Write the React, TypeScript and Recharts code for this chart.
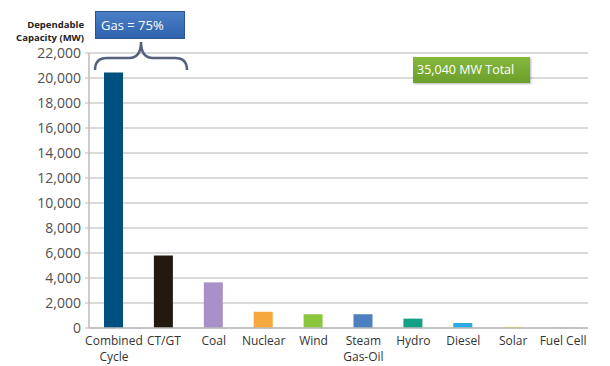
import React from "react";
import { BarChart, Bar, XAxis, YAxis, CartesianGrid, Cell } from "recharts";

const categories = ["Combined Cycle", "CT/GT", "Coal", "Nuclear", "Wind", "Steam Gas-Oil", "Hydro", "Diesel", "Solar", "Fuel Cell"];
const tickLines: string[][] = [["Combined", "Cycle"], ["CT/GT"], ["Coal"], ["Nuclear"], ["Wind"], ["Steam", "Gas-Oil"], ["Hydro"], ["Diesel"], ["Solar"], ["Fuel Cell"]];
const capacityMW = [20450, 5800, 3650, 1300, 1100, 1100, 750, 400, 100, 30];
const barColors = ["#00507f", "#231a0f", "#a890c8", "#f5a83c", "#8cc63f", "#4d80c0", "#14a084", "#2aaae0", "#f0e65a", "#b0b0b0"];
const yTicks = [0, 2000, 4000, 6000, 8000, 10000, 12000, 14000, 16000, 18000, 20000, 22000];

const data = categories.map((c, i) => ({ name: c, value: capacityMW[i], idx: i }));

const FONT = "'Open Sans', 'DejaVu Sans', sans-serif";

const XTick = (props: any) => {
  const { x, y, payload } = props;
  const lines = tickLines[payload.index] || [payload.value];
  return (
    <g transform={`translate(${x},${y})`}>
      {lines.map((l, i) => (
        <text key={i} x={0} y={i * 16} dy={9} textAnchor="middle" fill="#333" fontSize={12} fontFamily={FONT}>
          {l}
        </text>
      ))}
    </g>
  );
};

export default function App() {
  return (
    <div style={{ position: "absolute", left: 0, top: 0, width: 610, height: 366, background: "#fff", fontFamily: FONT }}>
      <BarChart width={610} height={366} data={data} margin={{ top: 53, right: 22, bottom: 8, left: 0 }} barSize={19}>
        <CartesianGrid vertical={false} stroke="#cccccc" strokeWidth={1.5} />
        <XAxis
          dataKey="name"
          interval={0}
          tick={<XTick />}
          tickLine={false}
          axisLine={{ stroke: "#bbbbbb", strokeWidth: 1.5 }}
          height={30}
        />
        <YAxis
          domain={[0, 22000]}
          ticks={yTicks}
          interval={0}
          width={89}
          tickFormatter={(v: number) => v.toLocaleString("en-US")}
          tick={{ fill: "#505050", fontSize: 14, fontFamily: FONT }}
          tickSize={4}
          tickMargin={4}
          tickLine={{ stroke: "#bbbbbb" }}
          axisLine={{ stroke: "#bbbbbb", strokeWidth: 1.5 }}
        />
        <Bar dataKey="value" isAnimationActive={false}>
          {data.map((d, i) => (
            <Cell key={i} fill={barColors[i]} />
          ))}
        </Bar>
      </BarChart>
      <div style={{ position: "absolute", left: 95, top: 11, width: 90, height: 28, background: "linear-gradient(#4a7fc6, #2f62ae)", border: "1px solid #2a5595", boxSizing: "border-box", color: "#fff", fontSize: 13, lineHeight: "26px", paddingLeft: 5, fontFamily: FONT }}>
        Gas = 75%
      </div>
      <svg style={{ position: "absolute", left: 0, top: 0 }} width={610} height={366} pointerEvents="none">
        <text x={84} y={28} textAnchor="end" fontSize={9.5} fontWeight={700} fill="#222" fontFamily={FONT}>Dependable</text>
        <text x={84} y={41} textAnchor="end" fontSize={9.5} fontWeight={700} fill="#222" fontFamily={FONT}>Capacity (MW)</text>
        <path d="M95,70 Q95,58 107,58 L129,58 Q141,58 141,42 Q141,58 153,58 L175,58 Q187,58 187,70" fill="none" stroke="#56617d" strokeWidth={2.5} />
      </svg>
      <div style={{ position: "absolute", left: 413, top: 57, width: 117, height: 26, background: "linear-gradient(#86b83c, #6d9e2c)", boxShadow: "1px 1px 2px rgba(0,0,0,0.3)", color: "#fff", fontSize: 12.5, lineHeight: "26px", paddingLeft: 4, boxSizing: "border-box", fontFamily: FONT }}>
        35,040 MW Total
      </div>
    </div>
  );
}
